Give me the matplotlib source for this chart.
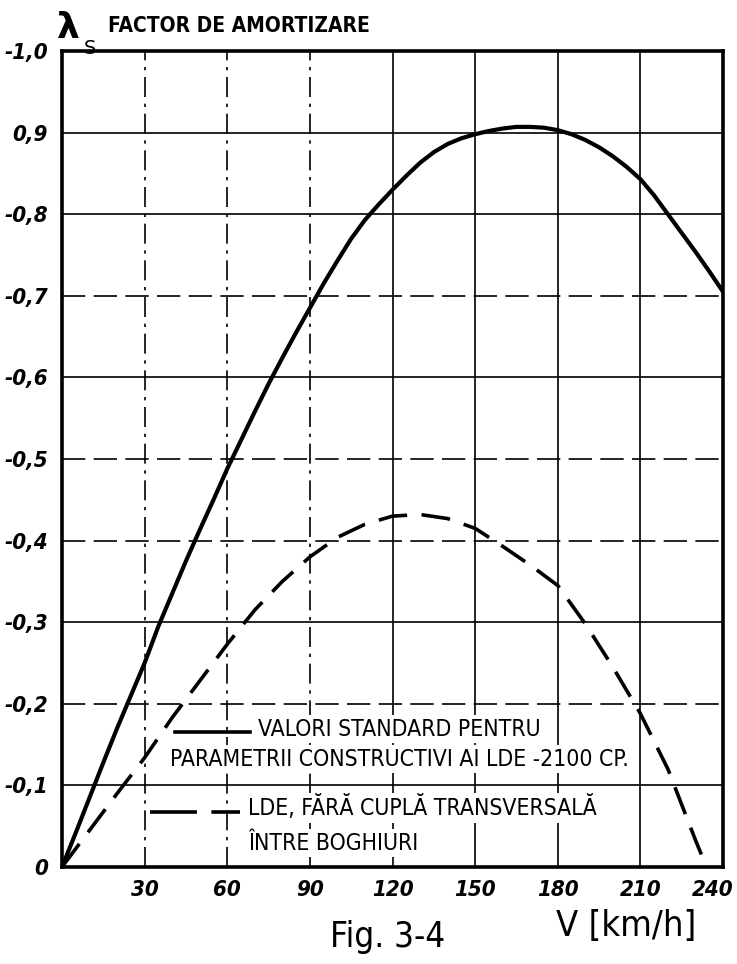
import matplotlib
matplotlib.use("Agg")
import matplotlib.pyplot as plt
from matplotlib.transforms import ScaledTranslation

# values
v_std = [0, 5, 10, 15, 20, 25, 30, 35, 40, 45, 50, 55, 60, 65, 70, 75, 80, 85, 90, 95, 100,
         105, 110, 115, 120, 125, 130, 135, 140, 145, 150, 155, 160, 165, 170, 175, 180, 185,
         190, 195, 200, 205, 210, 215, 220, 225, 230, 235, 240]
lam_std = [0, 0.042, 0.085, 0.128, 0.17, 0.21, 0.25, 0.295, 0.335, 0.375, 0.413, 0.45, 0.488,
           0.523, 0.558, 0.592, 0.624, 0.655, 0.685, 0.715, 0.743, 0.77, 0.793, 0.812, 0.83,
           0.847, 0.863, 0.876, 0.886, 0.893, 0.898, 0.902, 0.905, 0.907, 0.907, 0.906, 0.903,
           0.898, 0.891, 0.882, 0.871, 0.858, 0.843, 0.823, 0.80, 0.777, 0.754, 0.73, 0.705]

v_lde = [0, 10, 20, 30, 40, 50, 60, 70, 80, 90, 100, 110, 120, 130, 140, 150, 160, 170,
         180, 190, 200, 210, 220, 230, 234]
lam_lde = [0, 0.045, 0.09, 0.134, 0.183, 0.228, 0.273, 0.315, 0.35, 0.38, 0.404, 0.42, 0.43,
           0.432, 0.427, 0.415, 0.393, 0.37, 0.345, 0.298, 0.245, 0.188, 0.12, 0.033, 0]

x_ticks = [30, 60, 90, 120, 150, 180, 210, 240]
x_labels = ["30", "60", "90", "120", "150", "180", "210", "240"]
y_ticks = [0, 0.1, 0.2, 0.3, 0.4, 0.5, 0.6, 0.7, 0.8, 0.9, 1.0]
y_labels = ["0", "-0,1", "-0,2", "-0,3", "-0,4", "-0,5", "-0,6", "-0,7", "-0,8", "0,9", "-1,0"]

v_grid_styles = [(0, (12, 4, 2, 4)), (0, (12, 4, 2, 4)), (0, (12, 4, 2, 4)), "-", "-", "-", "-"]
h_grid_styles = ["-", (0, (14, 5)), "-", (0, (14, 5)), (0, (14, 5)), "-", (0, (14, 5)), "-", "-"]

FONT = "DejaVu Sans"
W, H = 737, 964

fig = plt.figure(figsize=(W / 100, H / 100), dpi=100)
ax = fig.add_axes([62 / W, 1 - 867 / H, (723 - 62) / W, (867 - 51) / H])


def fx(px):
    return px / W


def fy(py):
    return 1 - py / H


# grid
for xv, ls in zip(x_ticks[:-1], v_grid_styles):
    ax.axvline(xv, color="black", lw=1.2, ls=ls, zorder=1)
for yv, ls in zip(y_ticks[1:-1], h_grid_styles):
    ax.axhline(yv, color="black", lw=1.2, ls=ls, zorder=1)

ax.plot(v_std, lam_std, color="black", lw=3.0, zorder=3, solid_capstyle="round")
ax.plot(v_lde, lam_lde, color="black", lw=2.6, zorder=3, dashes=(8, 4))

ax.set_xlim(0, 240)
ax.set_ylim(0, 1.0)
ax.set_xticks(x_ticks)
ax.set_xticklabels(x_labels)
ax.set_yticks(y_ticks)
ax.set_yticklabels(y_labels)
ax.tick_params(axis="x", length=0, pad=9)
ax.tick_params(axis="y", length=0, pad=10)
for lab in ax.get_xticklabels() + ax.get_yticklabels():
    lab.set_family(FONT)
    lab.set_fontstretch("condensed")
    lab.set_fontsize(16)
    lab.set_fontweight("bold")
    lab.set_fontstyle("italic")
# the last label sits against the right frame
last = ax.get_xticklabels()[-1]
last.set_transform(last.get_transform() + ScaledTranslation(-10 / 100, 0, fig.dpi_scale_trans))
for s in ax.spines.values():
    s.set_linewidth(2.6)

# legend drawn by hand like in the drawing
box = dict(facecolor="white", edgecolor="none", pad=1.5)
txt = dict(family=FONT, fontstretch="condensed", fontsize=16.5, va="center", ha="left",
           bbox=box, zorder=5)
ax.plot([fx(175), fx(250)], [fy(732), fy(732)], transform=fig.transFigure,
        color="black", lw=2.6, zorder=5)
fig.text(fx(258), fy(729), "VALORI STANDARD PENTRU", **txt)
fig.text(fx(170), fy(759), "PARAMETRII CONSTRUCTIVI AI LDE -2100 CP.", **txt)
ax.plot([fx(150), fx(240)], [fy(812), fy(812)], transform=fig.transFigure,
        color="black", lw=2.6, dashes=(13, 4), zorder=5)
fig.text(fx(248), fy(808), "LDE, FĂRĂ CUPLĂ TRANSVERSALĂ", **txt)
fig.text(fx(248), fy(843), "ÎNTRE BOGHIURI", **txt)

# axis titles
fig.text(fx(57), fy(28), "λ", family=FONT, fontsize=26, fontweight="bold",
         va="center", ha="left")
fig.text(fx(84), fy(48), "S", family=FONT, fontsize=14, va="center", ha="left")
fig.text(fx(108), fy(26), "FACTOR DE AMORTIZARE", family=FONT, fontstretch="condensed",
         fontsize=15, fontweight="bold", va="center", ha="left")
fig.text(fx(556), fy(926), "V [km/h]", family=FONT, fontstretch="condensed", fontsize=26,
         va="center", ha="left")
fig.text(fx(330), fy(937), "Fig. 3-4", family=FONT, fontstretch="condensed", fontsize=25,
         va="center", ha="left")

fig.savefig("out.png", dpi=100)
